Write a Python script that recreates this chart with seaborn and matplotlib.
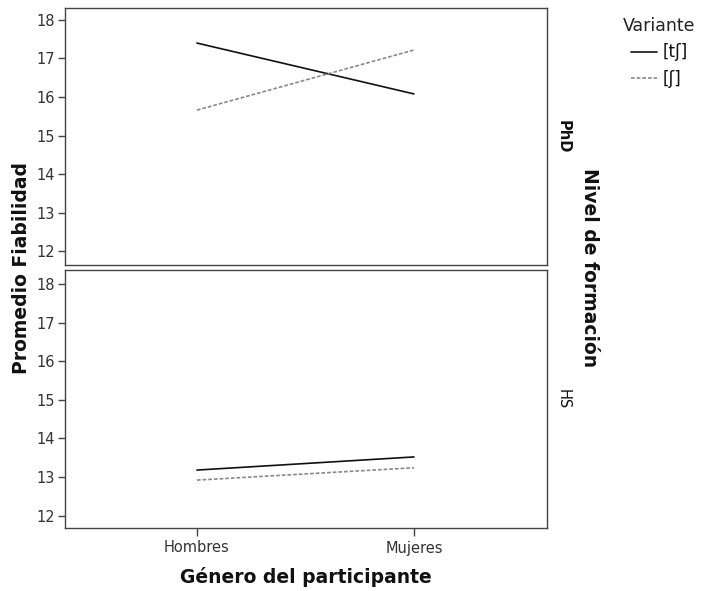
import matplotlib
matplotlib.use("Agg")
import matplotlib.pyplot as plt
import seaborn as sns
import pandas as pd
from matplotlib.lines import Line2D

sns.set_theme(style="white")
plt.rcParams['font.family'] = ['DejaVu Sans']

generos = ["Hombres", "Mujeres"]
niveles = ["PhD", "HS"]
variantes = ["[tʃ]", "[ʃ]"]
phd_tS = [17.40, 16.08]
phd_S = [15.66, 17.22]
hs_tS = [13.18, 13.52]
hs_S = [12.92, 13.24]
yticks = [12, 13, 14, 15, 16, 17, 18]

rows = []
for nivel, (a, b) in zip(niveles, [(phd_tS, phd_S), (hs_tS, hs_S)]):
    for g, v in zip(generos, a):
        rows.append(dict(Nivel=nivel, Genero=g, Variante=variantes[0], Valor=v))
    for g, v in zip(generos, b):
        rows.append(dict(Nivel=nivel, Genero=g, Variante=variantes[1], Valor=v))
df = pd.DataFrame(rows)

fig = plt.figure(figsize=(7.05, 5.91), dpi=100)
W, H = 705, 591
ax_top = fig.add_axes([65 / W, 1 - 265 / H, 482 / W, 257 / H])
ax_bot = fig.add_axes([65 / W, 1 - 528 / H, 482 / W, 258 / H])

palette = {variantes[0]: "#111111", variantes[1]: "#888888"}
dashes = {variantes[0]: "", variantes[1]: (2.2, 1.2)}
frame_col = "#444444"

for ax, nivel in [(ax_top, "PhD"), (ax_bot, "HS")]:
    sub = df[df.Nivel == nivel].copy()
    sub["x"] = sub.Genero.map({g: i for i, g in enumerate(generos)})
    sns.lineplot(data=sub, x="x", y="Valor", hue="Variante", style="Variante",
                 palette=palette, dashes=dashes, ax=ax, legend=False,
                 linewidth=1.2)
    ax.set_xlim(-0.608, 1.613)
    ax.set_yticks(yticks)
    ax.set_yticklabels([str(t) for t in yticks], fontsize=10.5, color="#333333")
    ax.set_xlabel("")
    ax.set_ylabel("")
    for s in ax.spines.values():
        s.set_color(frame_col)
        s.set_linewidth(1.0)
    ax.tick_params(axis="y", left=True, length=5, width=1, color=frame_col, pad=2)

ax_top.set_ylim(11.64, 18.31)
ax_bot.set_ylim(11.68, 18.36)
ax_top.set_xticks([])
ax_bot.set_xticks([0, 1])
ax_bot.set_xticklabels(generos, fontsize=10.5, color="#333333")
ax_bot.tick_params(axis="x", bottom=True, length=6, width=1, color=frame_col, pad=3)

# facet labels
ax_top.text(1.017, 0.5, "PhD", transform=ax_top.transAxes, rotation=-90,
            va="center", ha="left", fontsize=10.5, fontweight="bold", color="#111111")
ax_bot.text(1.017, 0.5, "HS", transform=ax_bot.transAxes, rotation=-90,
            va="center", ha="left", fontsize=10.5, color="#111111")

fig.text(590 / W, 1 - 268 / H, "Nivel de formación", rotation=-90, ha="center",
         va="center", fontsize=13.5, fontweight="bold", color="#111111")
fig.text(22 / W, 1 - 268 / H, "Promedio Fiabilidad", rotation=90, ha="center",
         va="center", fontsize=13.5, fontweight="bold", color="#111111")
fig.text(306 / W, 1 - 577 / H, "Género del participante", ha="center",
         va="center", fontsize=13.5, fontweight="bold", color="#111111")

# legend
handles = [Line2D([], [], color=palette[v], linewidth=1.2,
                  linestyle="-" if dashes[v] == "" else (0, dashes[v])) for v in variantes]
leg = fig.legend(handles, variantes, title="Variante", loc="upper center",
                 bbox_to_anchor=(659 / W, 1 - 17 / H), frameon=False, fontsize=12,
                 title_fontsize=12.5, handlelength=1.6, handletextpad=0.3,
                 labelspacing=0.5, borderaxespad=0, borderpad=0)
leg.get_title().set_color("#222222")
for t in leg.get_texts():
    t.set_color("#111111")

fig.savefig("out.png", dpi=100)
